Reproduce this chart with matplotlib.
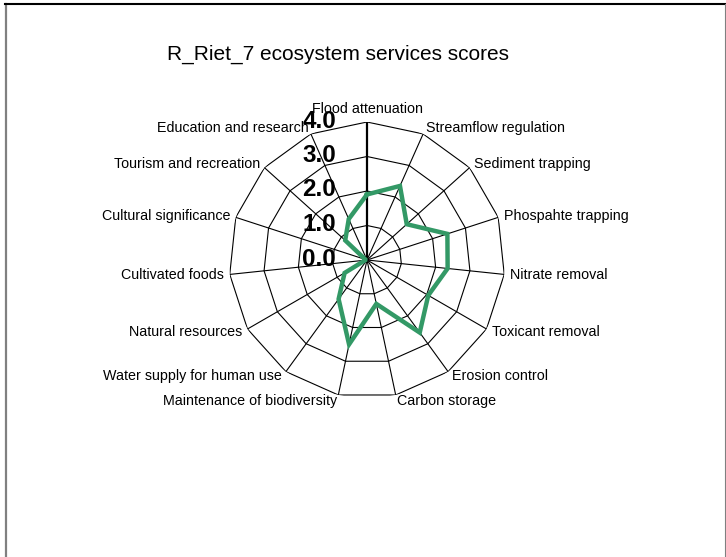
import numpy as np
import matplotlib
matplotlib.use("Agg")
import matplotlib.pyplot as plt
from matplotlib.lines import Line2D

plt.rcParams['font.family'] = ['Liberation Sans', 'DejaVu Sans']

title = "R_Riet_7 ecosystem services scores"
categories = ["Flood attenuation", "Streamflow regulation", "Sediment trapping",
              "Phospahte trapping", "Nitrate removal", "Toxicant removal",
              "Erosion control", "Carbon storage", "Maintenance of biodiversity",
              "Water supply for human use", "Natural resources", "Cultivated foods",
              "Cultural significance", "Tourism and recreation", "Education and research"]
scores = [1.9, 2.35, 1.55, 2.45, 2.35, 2.05, 2.6, 1.3, 2.5, 1.4, 0.75, 0.05, 0.05, 0.85, 1.3]
ring_values = [1.0, 2.0, 3.0, 4.0]
tick_values = [0.0, 1.0, 2.0, 3.0, 4.0]
tick_labels = ["0.0", "1.0", "2.0", "3.0", "4.0"]

W, H = 726, 557
fig = plt.figure(figsize=(W / 100, H / 100), dpi=100)
cx, cy, R = 367, 260, 138
ax = fig.add_axes([(cx - R) / W, (H - cy - R) / H, 2 * R / W, 2 * R / H], projection='polar')
ax.set_theta_zero_location('N')
ax.set_theta_direction(-1)
ax.set_ylim(0, 4)
ax.grid(False)
ax.spines['polar'].set_visible(False)
ax.set_xticks([])
ax.set_yticks([])
ax.patch.set_alpha(0)

n = len(categories)
theta = np.arange(n) * 2 * np.pi / n
theta_c = np.append(theta, theta[0])

# rings
for rv in ring_values:
    ax.plot(theta_c, [rv] * (n + 1), color='black', lw=0.8, zorder=1)
# spokes
for i, t in enumerate(theta):
    ax.plot([t, t], [0, 4], color='black', lw=1.6 if i == 0 else 0.8, zorder=1)

# data
vals_c = scores + [scores[0]]
ax.plot(theta_c, vals_c, color='#339966', lw=3.2, zorder=3, solid_joinstyle='miter')

# category labels
for t, lab in zip(theta, categories):
    deg = np.degrees(t)
    dx, dy = 6 * np.sin(t), 6 * np.cos(t)
    if abs(deg) < 1e-6:
        ha, va = 'center', 'bottom'
        dx, dy = 0, 6
    elif deg < 180:
        ha, va = 'left', 'center'
    else:
        ha, va = 'right', 'center'
    ax.annotate(lab, xy=(t, 4), xytext=(dx, dy), textcoords='offset pixels',
                ha=ha, va=va, fontsize=10.3, annotation_clip=False)

# radial tick labels
for tv, tl in zip(tick_values, tick_labels):
    ax.annotate(tl, xy=(0, tv), xytext=(-31, 1), textcoords='offset pixels',
                ha='right', va='center', fontsize=17.5, fontweight='bold',
                annotation_clip=False, zorder=4)

fig.text(338 / W, 1 - 54 / H, title, ha='center', va='center', fontsize=15)

# chart border
fig.add_artist(Line2D([6 / W, 6 / W], [0, 1 - 4 / H], color='#808080', lw=1.6))
fig.add_artist(Line2D([5 / W, 725 / W], [1 - 4 / H, 1 - 4 / H], color='black', lw=1.5))
fig.add_artist(Line2D([724.5 / W, 724.5 / W], [0, 1 - 4 / H], color='#808080', lw=0.8))

fig.savefig('out.png', dpi=100)
